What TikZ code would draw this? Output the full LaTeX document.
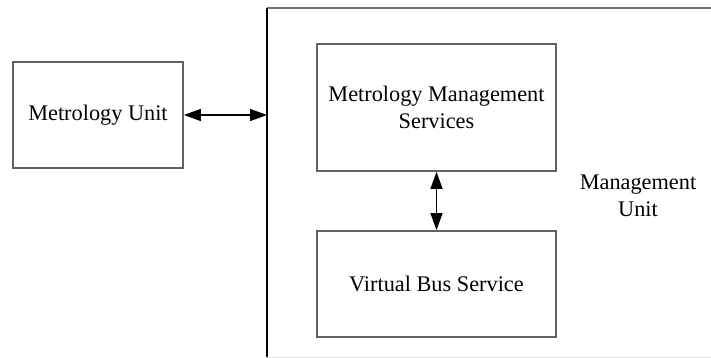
\documentclass[tikz,border=0pt]{standalone}
\usepackage{fontspec}
\setmainfont{Liberation Serif}
\usetikzlibrary{arrows.meta}
\begin{document}
\begin{tikzpicture}[x=1pt,y=-1pt,
  lbl/.style={font=\fontsize{22.3}{27}\selectfont, align=center, text=black},
  unitbox/.style={draw=black!62, line width=1.8pt, minimum width=#1, inner sep=0pt},
  link/.style={{Triangle[length=17pt,width=12pt]}-{Triangle[length=17pt,width=12pt]}, line width=1.3pt, black}
]
\useasboundingbox (0,0) rectangle (711,358);
% outer management unit frame (runs past the right edge)
\node[minimum width=460pt, minimum height=349pt, anchor=north west, inner sep=0pt] (mgu) at (267,8) {};
\draw[black!55, line width=2.5pt] (mgu.north west) -- (mgu.north east);
\draw[black, line width=1.4pt] (mgu.north west) -- (mgu.south west);
\draw[black!12, line width=1.4pt] (mgu.south west) -- (mgu.south east);
\node[lbl] (mgl) at (638,196) {Management\\Unit};

% inner boxes
\node[unitbox=170pt, minimum height=106pt, lbl] (mu) at (98,115) {Metrology Unit};
\node[unitbox=239pt, minimum height=127pt, lbl] (mms) at (436.5,107.5) {Metrology Management\\Services};
\node[unitbox=239pt, minimum height=106pt, lbl] (vbs) at (436.5,284) {Virtual Bus Service};

% connectors
\draw[link] (mu.east) -- (mu.east -| mgu.west);
\draw[link] (mms.south) -- (vbs.north);
\end{tikzpicture}
\end{document}
